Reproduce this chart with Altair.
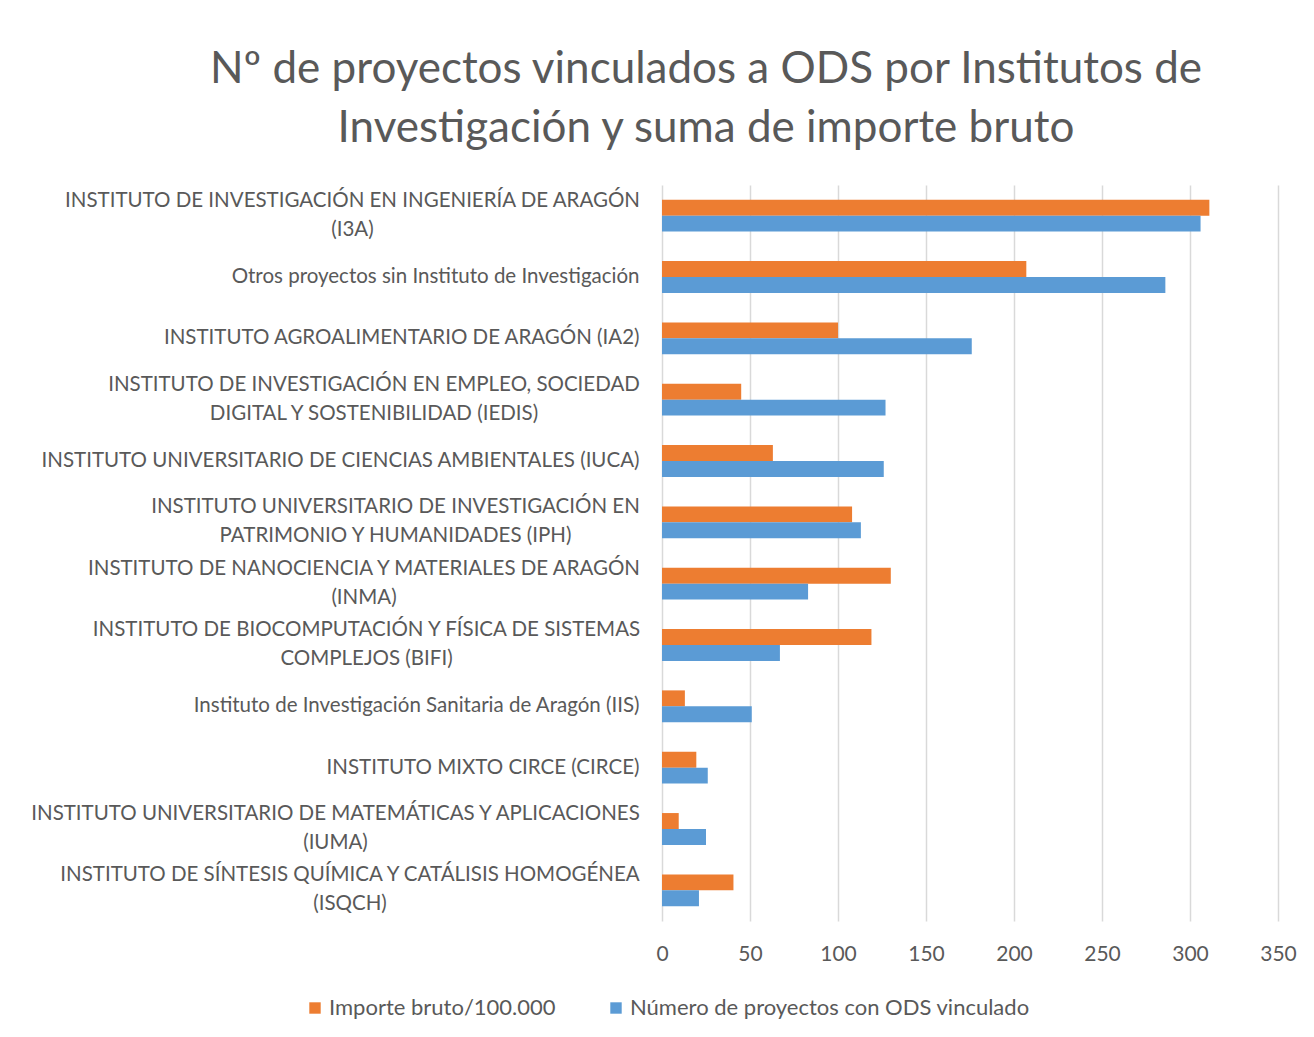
import altair as alt
import pandas as pd

categories = [
    "INSTITUTO DE INVESTIGACIÓN EN INGENIERÍA DE ARAGÓN|(I3A)",
    "Otros proyectos sin Instituto de Investigación",
    "INSTITUTO AGROALIMENTARIO DE ARAGÓN (IA2)",
    "INSTITUTO DE INVESTIGACIÓN EN  EMPLEO, SOCIEDAD|DIGITAL Y SOSTENIBILIDAD (IEDIS)",
    "INSTITUTO UNIVERSITARIO DE CIENCIAS AMBIENTALES (IUCA)",
    "INSTITUTO UNIVERSITARIO DE INVESTIGACIÓN EN|PATRIMONIO Y HUMANIDADES (IPH)",
    "INSTITUTO DE NANOCIENCIA Y MATERIALES DE ARAGÓN|(INMA)",
    "INSTITUTO DE BIOCOMPUTACIÓN Y FÍSICA DE SISTEMAS|COMPLEJOS (BIFI)",
    "Instituto de Investigación Sanitaria de Aragón (IIS)",
    "INSTITUTO MIXTO CIRCE (CIRCE)",
    "INSTITUTO UNIVERSITARIO DE MATEMÁTICAS Y APLICACIONES|(IUMA)",
    "INSTITUTO DE SÍNTESIS QUÍMICA Y CATÁLISIS HOMOGÉNEA|(ISQCH)",
]

importe_bruto = [311, 207, 100, 45, 63, 108, 130, 119, 13, 19.5, 9.5, 40.6]
num_proyectos = [306, 286, 176, 127, 126, 113, 83, 67, 51, 26, 25, 21]

series_names = ["Importe bruto/100.000", "Número de proyectos con ODS vinculado"]
series_colors = ["#ED7D31", "#5B9BD5"]
x_ticks = [0, 50, 100, 150, 200, 250, 300, 350]

# style: padding that centres the wrapped (two-line) labels in their block
wrapped_label_padding = {
    "(I3A)": 310,
    "(IEDIS)": 288.5,
    "(IPH)": 267,
    "(INMA)": 298.5,
    "(BIFI)": 296,
    "(IUMA)": 327,
    "(ISQCH)": 312.5,
}

rows = []
for c, a, b in zip(categories, importe_bruto, num_proyectos):
    rows.append({"cat": c, "series": series_names[0], "value": a})
    rows.append({"cat": c, "series": series_names[1], "value": b})
df = pd.DataFrame(rows)

text_color = "#595959"
font = "Lato"

is_wrapped = "indexof(datum.value, '|') >= 0"
pad_conditions = [
    {"test": f"indexof(datum.value, '{k}') >= 0", "value": v}
    for k, v in wrapped_label_padding.items()
]

chart = alt.Chart(df).mark_bar().encode(
    y=alt.Y(
        "cat:N",
        sort=categories,
        scale=alt.Scale(paddingInner=0.48, paddingOuter=0.24),
        axis=alt.Axis(
            title=None,
            ticks=False,
            domain=False,
            labelExpr="split(datum.label, '|')",
            labelFontSize=20.5,
            labelColor=text_color,
            labelFont=font,
            labelPadding={"condition": pad_conditions, "value": 23},
            labelAlign={"condition": {"test": is_wrapped, "value": "center"}, "value": "right"},
            labelLineHeight=29,
            labelBaseline="middle",
            labelOffset={"condition": {"test": is_wrapped, "value": -15}, "value": 0},
            labelLimit=700,
        ),
    ),
    yOffset=alt.YOffset("series:N", sort=series_names, scale=alt.Scale(paddingInner=0)),
    x=alt.X(
        "value:Q",
        scale=alt.Scale(domain=[0, 350], nice=False),
        axis=alt.Axis(
            title=None,
            values=x_ticks,
            ticks=False,
            domain=False,
            grid=True,
            gridColor="#D9D9D9",
            gridWidth=1.5,
            labelFontSize=21,
            labelColor=text_color,
            labelFont=font,
            labelPadding=22,
            labelFlush=False,
        ),
    ),
    color=alt.Color(
        "series:N",
        scale=alt.Scale(domain=series_names, range=series_colors),
        legend=alt.Legend(
            title=None,
            orient="none",
            direction="horizontal",
            legendX=-358,
            legendY=812,
            symbolType="square",
            symbolSize=130,
            symbolStrokeWidth=0,
            labelFontSize=22,
            labelFont=font,
            labelColor=text_color,
            labelLimit=500,
            columnPadding=49,
            labelOffset=3,
        ),
    ),
).properties(
    width=616,
    height=736,
    title=alt.TitleParams(
        text=["Nº de proyectos vinculados a ODS por Institutos de",
              "Investigación y suma de importe bruto"],
        fontSize=44,
        font=font,
        fontWeight="normal",
        color=text_color,
        anchor="middle",
        dx=-264,
        lineHeight=59,
        offset=34,
    ),
    autosize=alt.AutoSizeParams(type="none"),
    padding={"left": 654, "top": 177, "right": 28, "bottom": 100},
).configure_view(strokeWidth=0, stroke=None)

chart.save("out.html", embed_options={"renderer": "svg", "actions": False})
